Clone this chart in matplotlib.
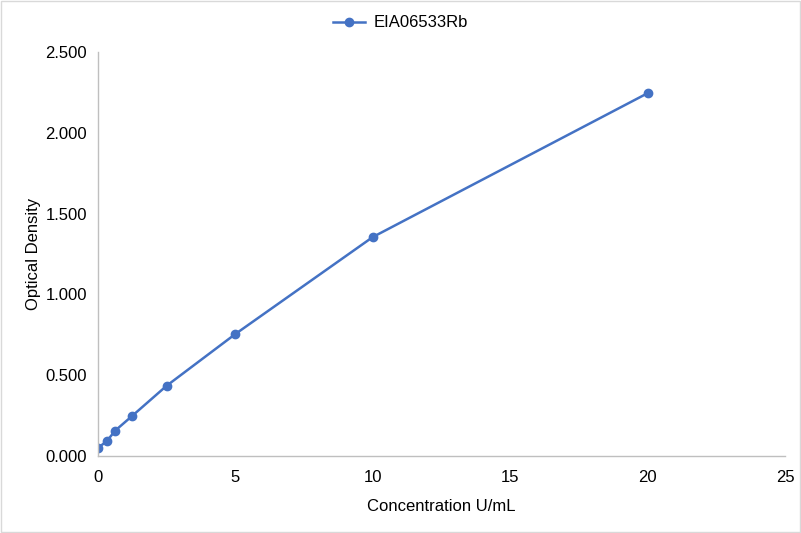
import matplotlib
matplotlib.use('Agg')
import matplotlib.pyplot as plt
from matplotlib.patches import Rectangle

plt.rcParams['font.family'] = ['Liberation Sans', 'DejaVu Sans']

conc = [0, 0.3125, 0.625, 1.25, 2.5, 5, 10, 20]
od = [0.051, 0.090, 0.157, 0.249, 0.435, 0.755, 1.355, 2.245]
series_name = 'EIA06533Rb'
yticks = [0, 0.5, 1.0, 1.5, 2.0, 2.5]
xticks = [0, 5, 10, 15, 20, 25]

W, H = 801, 533
fig = plt.figure(figsize=(W / 100, H / 100), dpi=100)
ax = fig.add_axes([98 / W, (H - 456) / H, (785 - 98) / W, (456 - 52) / H])

ax.plot(conc, od, color='#4472C4', linewidth=1.8, marker='o', markersize=6,
        label=series_name)

ax.set_xlim(0, 25)
ax.set_ylim(0, 2.5)
ax.set_xticks(xticks)
ax.set_yticks(yticks)
ax.set_yticklabels(['%.3f' % v for v in yticks])

for side in ['top', 'right']:
    ax.spines[side].set_visible(False)
for side in ['left', 'bottom']:
    ax.spines[side].set_color('#BFBFBF')
    ax.spines[side].set_linewidth(1)
ax.tick_params(length=0, labelsize=12, colors='#000000', pad=8)
ax.tick_params(axis='x', pad=10)

ax.set_xlabel('Concentration U/mL', fontsize=12, labelpad=10)
ax.set_ylabel('Optical Density', fontsize=12, labelpad=3)

fig.legend(loc='center', bbox_to_anchor=(0.5, 1 - 23 / H), frameon=False,
           fontsize=12, handlelength=1.9, handletextpad=0.5)

fig.patches.append(Rectangle((0.001, 0.001), 0.998, 0.997, transform=fig.transFigure,
                             fill=False, edgecolor='#D9D9D9', linewidth=1))

fig.savefig('out.png', dpi=100)
